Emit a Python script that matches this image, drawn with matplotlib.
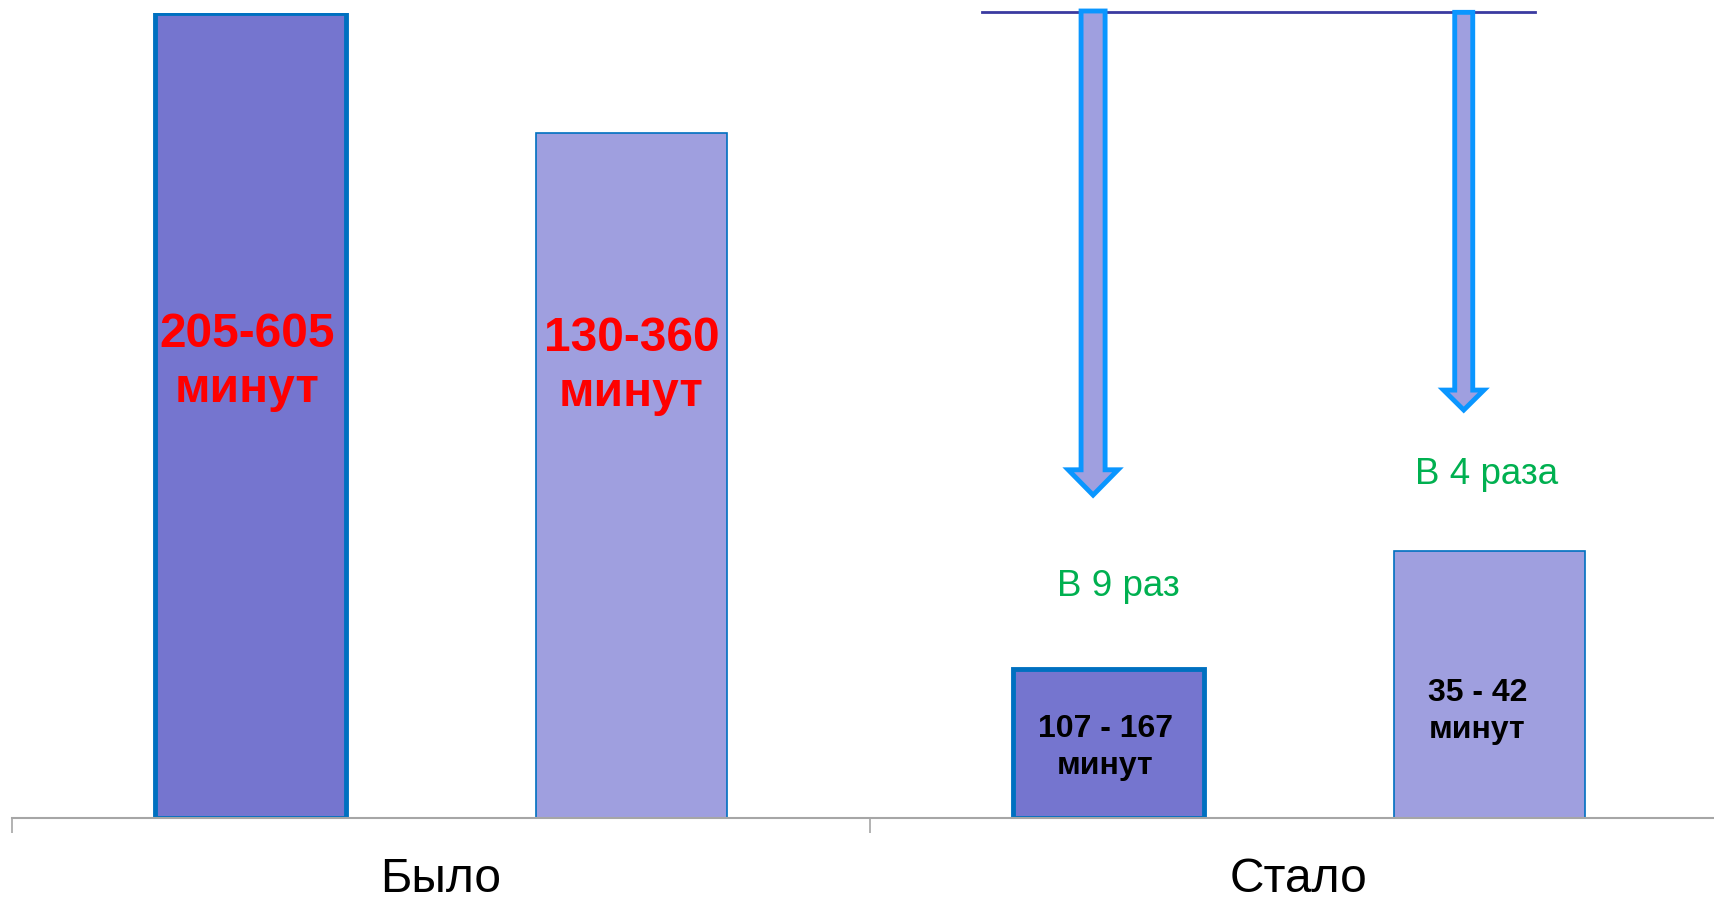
import matplotlib.pyplot as plt
import numpy as np
from matplotlib.patches import FancyArrow

plt.rcParams['font.family'] = ['Liberation Sans', 'DejaVu Sans']

# data
categories = ['Было', 'Стало']
series_a = [605, 112]   # dark bars
series_b = [515, 201]   # light bars
labels_a = ['205-605\nминут', '107 - 167\nминут']
labels_b = ['130-360\nминут', '35 - 42\nминут']
label_y_a = [343, 53]
label_y_b = [340, 80]
factors = ['В 9 раз', 'В 4 раза']
factor_y = [174, 258]

dark = '#7575CF'
light = '#9F9FDF'
edge = '#0070C0'
arrow_edge = '#0A96FF'

fig = plt.figure(figsize=(17.14, 8.99), dpi=100)
# axes: left at 12px, bottom line at 818px from top
left = 12 / 1714
width = (858 * 2) / 1714
bottom = (899 - 818) / 899
height = (818 - 13) / 899
ax = fig.add_axes([left, bottom, width, height])

x = np.arange(len(categories))
off = 0.222
bw = 0.223

ax.bar(x - off, series_a, bw, color=dark, edgecolor=edge, linewidth=3.5, zorder=2)
ax.bar(x + off, series_b, bw, color=light, edgecolor=edge, linewidth=1.2, zorder=2)

# labels inside bars
for i in range(len(categories)):
    if i == 0:
        kw = dict(color='#FF0000', fontsize=34.5, linespacing=1.29)
    else:
        kw = dict(color='black', fontsize=23, linespacing=1.29)
    ax.text(x[i] - off - 0.004, label_y_a[i], labels_a[i], ha='center', va='center',
            fontweight='bold', zorder=4, **kw)
    dx = 0 if i == 0 else -0.014
    ax.text(x[i] + off + dx, label_y_b[i], labels_b[i], ha='center', va='center',
            fontweight='bold', zorder=4, **kw)

# reduction arrows and reference line
ax.plot([0.6305, 1.275], [605.7, 605.7], color='#3A3AA0', lw=2, clip_on=False, zorder=3)
arrows = [(1 - off - 0.018, 606.5, 242.7, 0.028, 0.058, 19),
          (1 + off - 0.030, 605.5, 306.6, 0.021, 0.047, 15)]
for ax_x, y0, y1, w, hw, hl in arrows:
    a = FancyArrow(ax_x, y0, 0, y1 - y0, width=w, head_width=hw, head_length=hl,
                   length_includes_head=True, facecolor=light, edgecolor=arrow_edge,
                   linewidth=3.5, clip_on=False, zorder=3)
    ax.add_patch(a)

ax.text(1 - off + 0.011, factor_y[0], factors[0], color='#00B050', fontsize=26.5,
        ha='center', va='center')
ax.text(1 + off - 0.003, factor_y[1], factors[1], color='#00B050', fontsize=26.5,
        ha='center', va='center')

ax.set_xlim(-0.5, 1.5)
ax.set_ylim(0, 605)
ax.set_yticks([])
for s in ['left', 'right', 'top']:
    ax.spines[s].set_visible(False)
ax.spines['bottom'].set_color('#A6A6A6')
ax.spines['bottom'].set_linewidth(1.5)
ax.set_xticks(x)
ax.set_xticklabels(categories, fontsize=34.5)
ax.tick_params(axis='x', which='major', length=0, pad=28)
ax.set_xticks([-0.5, 0.5, 1.5], minor=True)
ax.tick_params(axis='x', which='minor', length=11, width=1.2, color='#A6A6A6')

fig.savefig('out.png', dpi=100)
